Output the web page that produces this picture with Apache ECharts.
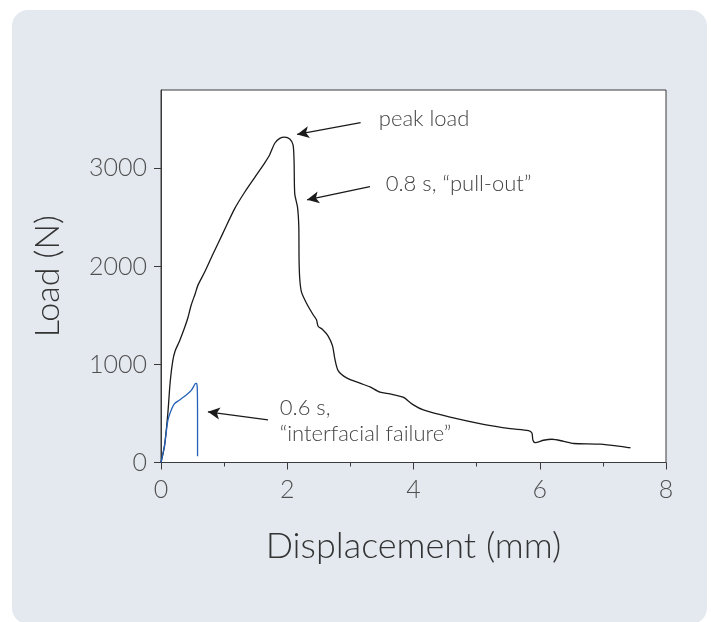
<!DOCTYPE html>
<html>
<head>
<meta charset="utf-8">
<script src="https://cdn.jsdelivr.net/npm/echarts@6/dist/echarts.min.js"></script>
<style>
html,body{margin:0;padding:0;background:#ffffff;}
#chart{width:711px;height:622px;}
</style>
</head>
<body>
<div id="chart"></div>
<script>
// Displacement (mm), Load (N)
var pullOutX = [0,0.056,0.108,0.146,0.187,0.225,0.294,0.373,0.425,0.479,0.543,0.584,0.690,0.822,0.981,1.167,1.325,1.484,1.643,1.722,1.802,1.881,1.960,2.040,2.092,2.108,2.119,2.162,2.183,2.187,2.198,2.225,2.305,2.410,2.463,2.489,2.559,2.648,2.717,2.754,2.806,2.940,3.151,3.310,3.468,3.627,3.759,3.844,3.992,4.156,4.579,5.108,5.532,5.822,5.876,5.892,5.929,6.060,6.194,6.378,6.537,6.960,7.437];
var pullOutY = [0,172,499,826,1040,1140,1240,1374,1474,1607,1724,1807,1940,2124,2340,2590,2757,2907,3057,3140,3257,3307,3320,3300,3240,3074,2740,2607,2407,2074,1874,1740,1624,1507,1457,1390,1357,1290,1190,1057,937,863,809,771,717,699,680,664,590,536,463,390,346,325,300,227,202,227,237,216,194,187,150];
var interfacialX = [0,0.056,0.108,0.162,0.214,0.294,0.400,0.479,0.543,0.563,0.575,0.579,0.579];
var interfacialY = [0,172,427,536,601,637,688,735,804,808,754,427,63];
var xTicks = [0,2,4,6,8];
var yTicks = [0,1000,2000,3000];
// annotations: [text, labelX, labelY, arrowTailX, arrowTailY, arrowTipX, arrowTipY]
var notes = [
  ['peak load', 3.45, 3507, 3.162, 3467, 2.156, 3347],
  ['0.8 s, \u201cpull-out\u201d', 3.559, 2847, 3.310, 2814, 2.314, 2680],
  ['0.6 s,\n\u201cinterfacial failure\u201d', 1.881, 420, 1.695, 434, 0.743, 517]
];

function zip(a,b){return a.map(function(v,i){return [v,b[i]];});}

var font = 'Lato';
var chart = echarts.init(document.getElementById('chart'), null, {renderer:'canvas'});
chart.setOption({
  animation:false,
  backgroundColor:'#ffffff',
  graphic:[{type:'rect',z:-10,silent:true,shape:{x:12,y:10,width:695,height:614,r:16},style:{fill:'#e4e9f0'}}],
  grid:{left:161,top:90,width:505,height:372.5,show:true,backgroundColor:'#ffffff',borderColor:'#3a3a3a',borderWidth:1},
  xAxis:{type:'value',min:0,max:8,interval:2,
    name:'Displacement (mm)',nameLocation:'middle',nameGap:66,
    nameTextStyle:{fontFamily:font,fontWeight:300,fontSize:36,color:'#333333'},
    axisLine:{show:true,lineStyle:{color:'#3a3a3a',width:1}},
    axisTick:{show:true,length:7,lineStyle:{color:'#3a3a3a'}},
    minorTick:{show:true,splitNumber:2,length:4,lineStyle:{color:'#3a3a3a'}},
    axisLabel:{margin:15,fontFamily:font,fontWeight:300,fontSize:25,color:'#505050',
      customValues:xTicks,formatter:function(v){return String(v);}},
    splitLine:{show:false}},
  yAxis:{type:'value',min:0,max:3800,
    name:'Load (N)',nameLocation:'middle',nameGap:96,
    nameTextStyle:{fontFamily:font,fontWeight:300,fontSize:34,color:'#333333'},
    axisLine:{show:true,lineStyle:{color:'#3a3a3a',width:1}},
    axisTick:{show:true,length:7,lineStyle:{color:'#3a3a3a'},customValues:yTicks},
    axisLabel:{margin:14,fontFamily:font,fontWeight:300,fontSize:25,color:'#505050',customValues:yTicks,
      formatter:function(v){return String(v);}},
    splitLine:{show:false}},
  series:[
    {type:'line',name:'pull-out',data:zip(pullOutX,pullOutY),showSymbol:false,smooth:0.25,
      lineStyle:{color:'#1a1a1a',width:1.3},
      markLine:{silent:true,symbol:['none','arrow'],symbolSize:[9,12],
        lineStyle:{color:'#1a1a1a',width:1.3,type:'solid'},label:{show:false},
        data:notes.map(function(n){return [{coord:[n[3],n[4]]},{coord:[n[5],n[6]]}];})},
      markPoint:{silent:true,symbol:'circle',symbolSize:0,
        label:{show:true,position:'right',distance:0,fontFamily:font,fontWeight:300,fontSize:22,color:'#444444',lineHeight:26,
          formatter:function(p){return p.name;}},
        data:notes.map(function(n){return {name:n[0],coord:[n[1],n[2]]};})}
    },
    {type:'line',name:'interfacial',data:zip(interfacialX,interfacialY),showSymbol:false,smooth:0.25,
      lineStyle:{color:'#2461b8',width:1.3}}
  ]
});
</script>
</body>
</html>
